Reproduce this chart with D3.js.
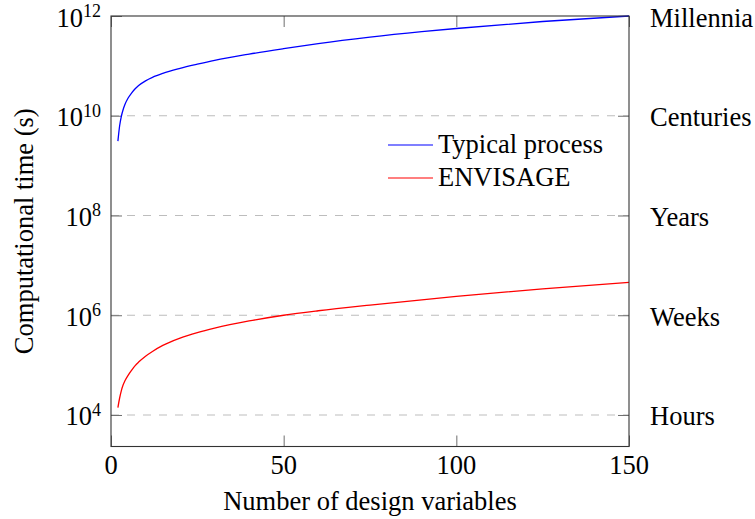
<!DOCTYPE html>
<html lang="en">
<head>
<meta charset="UTF-8" />
<title>Computational time vs design variables</title>
<script src="https://cdn.jsdelivr.net/npm/d3@7"></script>
<style>
  body { margin: 0; background: #fff; }
  svg text { font-family: "Liberation Serif", "Times New Roman", serif; fill: #000; }
</style>
</head>
<body>
<svg id="chart" width="755" height="519"></svg>
<script>
  // values
  const nVars = [2, 2.5, 3, 3.5, 4, 5, 6, 7, 8, 10, 12, 15, 20, 25, 30, 40, 50, 60, 75, 90, 100, 125, 150];
  const typical = [3.09e9, 6.31e9, 9.77e9, 1.32e10, 1.66e10, 2.29e10, 2.88e10, 3.47e10, 4.03e10, 5.01e10,
                   5.89e10, 7.08e10, 8.91e10, 1.08e11, 1.29e11, 1.72e11, 2.21e11, 2.79e11, 3.76e11,
                   4.84e11, 5.62e11, 7.76e11, 1.0e12];
  const envisage = [1.41e4, 2.19e4, 3.09e4, 3.98e4, 4.79e4, 6.31e4, 7.94e4, 9.77e4, 1.15e5, 1.51e5,
                    1.88e5, 2.48e5, 3.47e5, 4.47e5, 5.5e5, 7.67e5, 1.0e6, 1.23e6, 1.6e6,
                    2.04e6, 2.38e6, 3.39e6, 4.57e6];
  const seriesNames = ["Typical process", "ENVISAGE"];
  const seriesColors = ["#0000ff", "#ff0000"];
  const xTicks = [0, 50, 100, 150];
  const yTickExp = [4, 6, 8, 10, 12];
  const timeLabels = ["Hours", "Weeks", "Years", "Centuries", "Millennia"];

  const plotL = 111, plotR = 629, plotT = 16, plotB = 446.5;
  const tick = 11;
  const fs = '26.5px';

  const svg = d3.select('#chart');

  const x = d3.scaleLinear().domain([0, 150]).range([plotL, plotR]);
  const y = d3.scaleLog().domain([Math.pow(10, 3.368), 1e12]).range([plotB, plotT]);

  // dashed grid
  svg.append('g')
    .selectAll('line')
    .data(yTickExp.filter(e => e < 12))
    .enter().append('line')
      .attr('x1', plotL).attr('x2', plotR)
      .attr('y1', d => y(Math.pow(10, d))).attr('y2', d => y(Math.pow(10, d)))
      .attr('stroke', '#bdbdbd')
      .attr('stroke-width', 1.1)
      .attr('stroke-dasharray', '8,8');

  // axes with inward ticks, labels drawn separately
  const yVals = yTickExp.map(e => Math.pow(10, e));
  svg.append('g').attr('transform', `translate(${plotL},0)`)
    .call(d3.axisLeft(y).tickValues(yVals).tickSizeInner(-tick).tickSizeOuter(0).tickFormat(''));
  svg.append('g').attr('transform', `translate(${plotR},0)`)
    .call(d3.axisRight(y).tickValues(yVals).tickSizeInner(-tick).tickSizeOuter(0).tickFormat(''));
  svg.append('g').attr('transform', `translate(0,${plotB})`)
    .call(d3.axisBottom(x).tickValues(xTicks).tickSizeInner(-tick).tickSizeOuter(0).tickFormat(''));
  svg.append('g').attr('transform', `translate(0,${plotT})`)
    .call(d3.axisTop(x).tickValues(xTicks).tickSizeInner(-tick).tickSizeOuter(0).tickFormat(''));
  svg.selectAll('.domain').remove();
  svg.selectAll('.tick line').attr('stroke', '#6e6e6e');

  // curves
  const line = d3.line()
    .x(d => x(d[0]))
    .y(d => y(d[1]))
    .curve(d3.curveMonotoneX);

  [typical, envisage].forEach((vals, i) => {
    svg.append('path')
      .datum(nVars.map((n, j) => [n, vals[j]]))
      .attr('fill', 'none')
      .attr('stroke', seriesColors[i])
      .attr('stroke-width', 1.3)
      .attr('d', line);
  });

  // frame
  svg.append('rect')
    .attr('x', plotL).attr('y', plotT)
    .attr('width', plotR - plotL).attr('height', plotB - plotT)
    .attr('fill', 'none')
    .attr('stroke', '#333')
    .attr('stroke-width', 1.1);

  // left tick labels 10^n
  const yl = svg.append('g').selectAll('text')
    .data(yTickExp)
    .enter().append('text')
      .attr('x', 101)
      .attr('y', d => y(Math.pow(10, d)) + 10.5)
      .attr('text-anchor', 'end')
      .style('font-size', fs);
  yl.append('tspan').text('10');
  yl.append('tspan').attr('dy', -9.5).style('font-size', '18px').text(d => d);

  // right labels
  svg.append('g').selectAll('text')
    .data(yTickExp)
    .enter().append('text')
      .attr('x', 650)
      .attr('y', d => y(Math.pow(10, d)) + 10.5)
      .style('font-size', fs)
      .text((d, i) => timeLabels[i]);

  // bottom labels
  svg.append('g').selectAll('text')
    .data(xTicks)
    .enter().append('text')
      .attr('x', d => x(d))
      .attr('y', 474)
      .attr('text-anchor', 'middle')
      .style('font-size', fs)
      .text(d => d);

  svg.append('text')
    .attr('x', (plotL + plotR) / 2)
    .attr('y', 510)
    .attr('text-anchor', 'middle')
    .style('font-size', fs)
    .text('Number of design variables');

  svg.append('text')
    .attr('transform', `translate(33,${(plotT + plotB) / 2}) rotate(-90)`)
    .attr('text-anchor', 'middle')
    .style('font-size', fs)
    .text('Computational time (s)');

  // legend
  const legend = svg.append('g');
  seriesNames.forEach((name, i) => {
    const ly = 145 + i * 33;
    legend.append('line')
      .attr('x1', 388).attr('x2', 433)
      .attr('y1', ly).attr('y2', ly)
      .attr('stroke', seriesColors[i])
      .attr('stroke-width', 1.1);
    legend.append('text')
      .attr('x', 438).attr('y', ly + 8)
      .style('font-size', fs)
      .text(name);
  });
</script>
</body>
</html>
